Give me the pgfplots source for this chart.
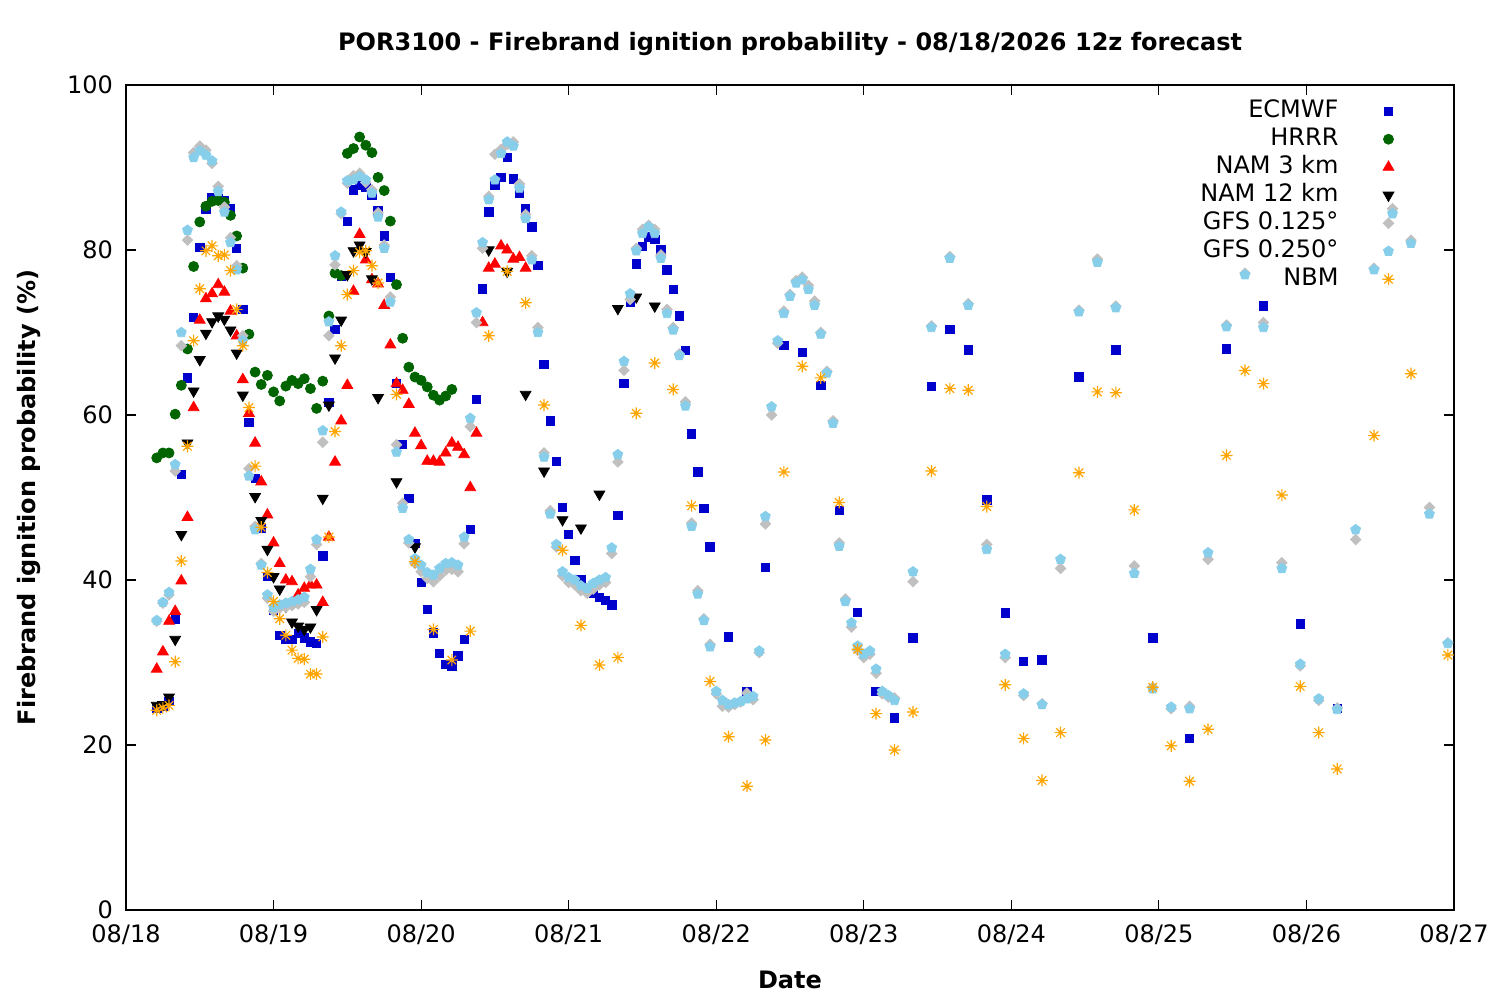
\documentclass[border=0pt]{standalone}
\usepackage{fontspec}
\setmainfont{DejaVu Sans}
\usepackage{pgfplots}
\pgfplotsset{compat=1.18}
\definecolor{ecm}{RGB}{0,0,205}
\definecolor{hrrr}{RGB}{0,100,0}
\definecolor{namt}{RGB}{255,0,0}
\definecolor{gfsa}{RGB}{192,192,192}
\definecolor{gfsb}{RGB}{135,206,235}
\definecolor{nbm}{RGB}{255,165,0}
\pgfdeclareplotmark{starx}{%
  \pgfpathmoveto{\pgfqpoint{-\pgfplotmarksize}{0pt}}\pgfpathlineto{\pgfqpoint{\pgfplotmarksize}{0pt}}%
  \pgfpathmoveto{\pgfqpoint{0pt}{-\pgfplotmarksize}}\pgfpathlineto{\pgfqpoint{0pt}{\pgfplotmarksize}}%
  \pgfpathmoveto{\pgfqpoint{-0.707\pgfplotmarksize}{-0.707\pgfplotmarksize}}\pgfpathlineto{\pgfqpoint{0.707\pgfplotmarksize}{0.707\pgfplotmarksize}}%
  \pgfpathmoveto{\pgfqpoint{-0.707\pgfplotmarksize}{0.707\pgfplotmarksize}}\pgfpathlineto{\pgfqpoint{0.707\pgfplotmarksize}{-0.707\pgfplotmarksize}}%
  \pgfusepathqstroke}
\begin{document}
\begin{tikzpicture}
\begin{axis}[
  scale only axis, width=664pt, height=412.5pt,
  xmin=0, xmax=216, ymin=0, ymax=100,
  xtick={0,24,...,216},
  xticklabels={08/18,08/19,08/20,08/21,08/22,08/23,08/24,08/25,08/26,08/27},
  ytick={0,20,...,100},
  /pgf/number format/assume math mode=true,
  ticklabel style={font=\fontsize{12}{14}\selectfont},
  xticklabel style={yshift=-4pt},
  yticklabel style={xshift=-3pt},
  major tick length=5pt,
  tick align=inside,
  axis line style={line width=0.6pt},
  every tick/.style={black, line width=0.6pt},
  clip=false,
  title={POR3100 - Firebrand ignition probability - 08/18/2026 12z forecast},
  title style={font=\fontsize{12}{14}\selectfont\bfseries, at={(axis description cs:0.5,1.0351)}, anchor=center},
  xlabel={Date},
  xlabel style={font=\fontsize{12}{14}\selectfont\bfseries, at={(axis description cs:0.5,-0.0848)}, anchor=center},
  ylabel={Firebrand ignition probability (\%)},
  ylabel style={font=\fontsize{12}{14}\selectfont\bfseries, at={(axis description cs:-0.0730,0.5)}, anchor=center},
  legend plot pos=right,
  legend cell align=right,
  legend style={draw=none, fill=none, at={(axis description cs:0.960,0.9905)}, anchor=north east,
    font=\fontsize{12}{14}\selectfont, column sep=20.5pt,
    nodes={text height=8.6pt, text depth=2.4pt, inner sep=1.5pt}},
]
\addplot[only marks, mark=square*, mark size=2.1pt, color=ecm] coordinates {
(5,24.5)(6,24.7)(7,25.3)(8,35.3)(9,52.8)(10,64.5)(11,71.8)(12,80.3)(13,85.0)(14,86.3)(15,86.2)(16,86.0)(17,85.0)(18,80.2)(19,72.8)(20,59.1)(21,52.3)(22,46.3)(23,40.4)(24,36.3)(25,33.3)(26,32.8)(27,32.8)(28,33.5)(29,33.0)(30,32.5)(31,32.3)(32,42.9)(33,61.5)(34,70.4)(35,76.8)(36,83.5)(37,87.3)(38,87.8)(39,87.6)(40,86.7)(41,84.8)(42,81.7)(43,76.7)(44,63.8)(45,56.4)(46,49.9)(47,44.4)(48,39.7)(49,36.4)(50,33.6)(51,31.1)(52,29.8)(53,29.6)(54,30.8)(55,32.8)(56,46.1)(57,61.9)(58,75.3)(59,84.6)(60,87.8)(61,88.8)(62,91.2)(63,88.6)(64,86.9)(65,85.0)(66,82.8)(67,78.1)(68,66.1)(69,59.3)(70,54.4)(71,48.8)(72,45.5)(73,42.4)(74,40.1)(75,39.0)(76,38.4)(77,37.9)(78,37.5)(79,37.0)(80,47.8)(81,63.8)(82,73.7)(83,78.3)(84,80.4)(85,81.6)(86,81.3)(87,80.0)(88,77.6)(89,75.2)(90,72.0)(91,67.8)(92,57.7)(93,53.1)(94,48.7)(95,44.0)
(98,33.1)(101,26.5)(104,41.5)(107,68.4)(110,67.6)(113,63.6)(116,48.4)(119,36.1)(122,26.5)(125,23.3)(128,33.0)(131,63.5)(134,70.4)(137,67.9)(140,49.7)(143,36.0)(146,30.1)(149,30.3)(155,64.6)(161,67.9)(167,33.0)(173,20.8)(179,68.0)(185,73.2)(191,34.7)(197,24.4)
};
\addlegendentry{ECMWF}
\addplot[only marks, mark=*, mark size=2.5pt, color=hrrr] coordinates {
(5,54.8)(6,55.4)(7,55.4)(8,60.1)(9,63.6)(10,68.0)(11,78.0)(12,83.4)(13,85.3)(14,85.9)(15,86.0)(16,85.8)(17,84.2)(18,81.7)(19,77.8)(20,69.8)(21,65.2)(22,63.7)(23,64.8)(24,62.8)(25,61.7)(26,63.5)(27,64.2)(28,63.8)(29,64.4)(30,63.2)(31,60.8)(32,64.1)(33,72.0)(34,77.2)(35,76.9)(36,91.7)(37,92.3)(38,93.7)(39,92.7)(40,91.8)(41,88.8)(42,87.2)(43,83.5)(44,75.8)(45,69.3)(46,65.8)(47,64.6)(48,64.2)(49,63.4)(50,62.4)(51,61.8)(52,62.3)(53,63.1)
};
\addlegendentry{HRRR}
\addplot[only marks, mark=triangle*, mark size=3.1pt, color=namt] coordinates {
(5,29.2)(6,31.3)(7,35.0)(8,36.2)(9,39.9)(10,47.6)(11,60.9)(12,71.5)(13,74.1)(14,74.7)(15,75.8)(16,74.9)(17,72.6)(18,69.6)(19,64.3)(20,60.2)(21,56.6)(22,51.9)(23,47.9)(24,44.5)(25,42.0)(26,40.0)(27,39.8)(28,38.2)(29,39.0)(30,39.4)(31,39.4)(32,37.3)(33,45.2)(34,54.3)(35,59.3)(36,63.6)(37,75.0)(38,81.9)(39,78.8)(40,76.4)(41,75.9)(42,73.3)(43,68.5)(44,63.8)(45,63.0)(46,61.3)(47,57.8)(48,56.3)(49,54.4)(50,54.4)(51,54.3)(52,55.4)(53,56.6)(54,56.1)(55,55.2)(56,51.2)(57,57.8)(58,71.2)(59,77.8)(60,78.3)(61,80.5)(62,80.0)(63,78.9)(64,79.1)(65,77.8)
};
\addlegendentry{NAM 3 km}
\addplot[only marks, mark=triangle*, mark size=3.1pt, mark options={rotate=180}, color=black] coordinates {
(5,24.8)(6,24.9)(7,25.8)(8,32.8)(9,45.5)(10,56.6)(11,62.9)(12,66.7)(13,69.9)(14,71.3)(15,72.0)(16,71.6)(17,70.3)(18,67.5)(19,62.4)(21,50.1)(22,47.2)(23,43.7)(24,40.4)(25,38.9)(26,36.8)(27,34.9)(28,34.4)(29,34.0)(30,34.3)(31,36.4)(32,49.9)(33,61.2)(34,66.9)(35,71.5)(36,77.0)(37,79.9)(38,80.6)(39,79.8)(40,76.5)(41,62.1)(44,51.9)(47,44.0)(59,80.0)(62,77.4)(65,62.5)(68,53.2)(71,47.3)(74,46.3)(77,50.4)(80,72.9)(83,74.3)(86,73.2)
};
\addlegendentry{NAM 12 km}
\addplot[only marks, mark=square*, mark size=1.85pt, mark options={rotate=45}, color=gfsa] coordinates {
(5,35.0)(6,37.2)(7,38.2)(8,53.2)(9,68.4)(10,81.2)(11,91.8)(12,92.6)(13,92.1)(14,90.5)(15,87.7)(16,85.2)(17,81.5)(18,78.1)(19,69.6)(20,53.5)(21,46.5)(22,42.0)(23,37.8)(24,36.2)(25,36.6)(26,36.7)(27,36.9)(28,37.1)(29,37.3)(30,40.4)(31,44.3)(32,56.7)(33,69.6)(34,78.2)(35,84.4)(36,88.1)(37,89.0)(38,89.3)(39,88.2)(40,87.3)(41,84.5)(42,80.6)(43,74.3)(44,56.4)(45,49.3)(46,44.5)(47,42.0)(48,41.0)(49,40.2)(50,39.8)(51,40.5)(52,41.2)(53,41.3)(54,41.0)(55,44.4)(56,58.6)(57,71.2)(58,80.2)(59,86.5)(60,91.6)(61,92.2)(62,92.8)(63,93.1)(64,88.0)(65,84.3)(66,79.3)(67,70.6)(68,55.4)(69,48.4)(70,44.0)(71,40.5)(72,39.7)(73,39.4)(74,38.7)(75,38.4)(76,38.9)(77,39.4)(78,39.7)(79,43.2)(80,54.3)(81,65.4)(82,74.0)(83,80.2)(84,82.5)(85,83.0)(86,82.5)(87,79.4)(88,72.8)(89,70.6)(90,67.4)(91,61.6)(92,46.9)(93,38.7)(94,35.3)(95,32.2)(96,26.2)(97,24.7)(98,24.6)(99,24.9)(100,25.2)(101,26.3)(102,25.5)(103,31.2)(104,46.8)(105,60.0)(106,68.7)(107,72.6)(108,74.6)(109,76.3)(110,76.7)(111,75.7)(112,73.8)(113,70.0)(114,65.3)(115,59.3)(116,44.5)(117,37.7)(118,34.3)(119,31.5)(120,30.6)(121,31.0)(122,28.7)(123,26.2)(124,25.8)(125,25.7)
(128,39.8)(131,70.8)(134,79.2)(137,73.5)(140,44.3)(143,30.6)(146,26.0)(149,25.0)(152,41.4)(155,72.7)(158,78.9)(161,73.2)(164,41.7)(167,27.0)(170,24.4)(173,24.7)(176,42.5)(179,70.9)(182,77.2)(185,71.2)(188,42.1)(191,29.6)(194,25.4)(197,24.5)(200,44.9)(203,77.8)(206,85.0)(209,81.2)(212,48.8)(215,32.4)
};
\addlegendentry{GFS 0.125°}
\addplot[only marks, mark=pentagon*, mark size=2.6pt, color=gfsb] coordinates {
(5,35.1)(6,37.3)(7,38.5)(8,54.0)(9,70.0)(10,82.4)(11,91.2)(12,92.0)(13,91.5)(14,90.8)(15,87.1)(16,84.6)(17,80.9)(18,77.6)(19,69.0)(20,52.6)(21,46.1)(22,41.8)(23,38.2)(24,36.7)(25,37.0)(26,37.2)(27,37.4)(28,37.6)(29,37.9)(30,41.3)(31,44.9)(32,58.1)(33,71.3)(34,79.3)(35,84.6)(36,88.4)(37,88.5)(38,88.9)(39,88.5)(40,86.9)(41,84.0)(42,80.2)(43,73.7)(44,55.5)(45,48.7)(46,44.9)(47,42.6)(48,41.8)(49,40.9)(50,40.6)(51,41.4)(52,42.0)(53,42.1)(54,41.8)(55,45.2)(56,59.6)(57,72.4)(58,80.9)(59,86.1)(60,88.5)(61,91.7)(62,93.1)(63,92.6)(64,87.5)(65,83.8)(66,78.8)(67,70.0)(68,54.9)(69,48.0)(70,44.3)(71,41.0)(72,40.3)(73,40.0)(74,39.3)(75,39.0)(76,39.6)(77,40.0)(78,40.3)(79,43.9)(80,55.2)(81,66.5)(82,74.7)(83,79.9)(84,82.0)(85,82.8)(86,82.0)(87,79.0)(88,72.3)(89,70.3)(90,67.2)(91,61.1)(92,46.5)(93,38.3)(94,35.1)(95,31.9)(96,26.5)(97,25.4)(98,24.9)(99,25.1)(100,25.3)(101,25.6)(102,25.9)(103,31.4)(104,47.7)(105,61.0)(106,69.0)(107,72.3)(108,74.4)(109,76.0)(110,76.4)(111,75.2)(112,73.3)(113,69.8)(114,65.1)(115,59.0)(116,44.1)(117,37.4)(118,34.8)(119,32.0)(120,31.0)(121,31.4)(122,29.2)(123,26.5)(124,26.0)(125,25.4)
(128,41.0)(131,70.6)(134,79.0)(137,73.3)(140,43.7)(143,31.0)(146,26.2)(149,24.9)(152,42.5)(155,72.5)(158,78.5)(161,73.0)(164,40.8)(167,26.8)(170,24.6)(173,24.4)(176,43.3)(179,70.7)(182,77.0)(185,70.6)(188,41.4)(191,29.8)(194,25.6)(197,24.3)(200,46.1)(203,77.6)(206,84.4)(209,80.8)(212,48.0)(215,32.3)
};
\addlegendentry{GFS 0.250°}
\addplot[only marks, mark=starx, mark size=3pt, mark options={line width=0.6pt}, color=nbm] coordinates {
(5,24.2)(6,24.5)(7,24.8)(8,30.1)(9,42.3)(10,56.2)(11,69.0)(12,75.3)(13,79.9)(14,80.5)(15,79.3)(16,79.4)(17,77.5)(18,72.8)(19,68.4)(20,60.9)(21,53.8)(22,46.4)(23,40.9)(24,37.4)(25,35.3)(26,33.3)(27,31.5)(28,30.5)(29,30.4)(30,28.6)(31,28.6)(32,33.1)(33,45.2)(34,58.0)(35,68.4)(36,74.6)(37,77.5)(38,79.7)(39,79.9)(40,78.1)(41,76.0)
(44,62.5)(47,42.2)(50,34.0)(53,30.3)(56,33.8)(59,69.6)(62,77.4)(65,73.6)(68,61.2)(71,43.6)(74,34.5)(77,29.7)(80,30.6)(83,60.2)(86,66.3)(89,63.1)(92,49.0)(95,27.7)(98,21.0)(101,15.0)(104,20.6)(107,53.1)(110,65.9)(113,64.5)(116,49.4)(119,31.6)(122,23.8)(125,19.4)(128,24.0)(131,53.2)(134,63.2)(137,63.0)(140,48.9)(143,27.3)(146,20.8)(149,15.7)(152,21.5)(155,53.0)(158,62.8)(161,62.7)(164,48.5)(167,27.0)(170,19.9)(173,15.6)(176,21.9)(179,55.1)(182,65.4)(185,63.8)(188,50.3)(191,27.1)(194,21.5)(197,17.1)(203,57.5)(209,65.0)(215,30.9)
};
\addlegendentry{NBM}
\end{axis}
\pgfresetboundingbox
\path (-63pt,-45pt) rectangle (687pt,455pt);
\end{tikzpicture}
\end{document}
